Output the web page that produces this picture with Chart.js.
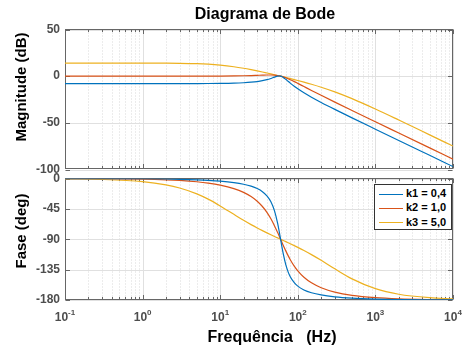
<!DOCTYPE html>
<html>
<head>
<meta charset="utf-8">
<title>Diagrama de Bode</title>
<script src="https://cdn.jsdelivr.net/npm/chart.js@4.4.0/dist/chart.umd.min.js"></script>
<style>
    html, body { margin: 0; padding: 0; background: #fff; }
    #wrap { position: relative; width: 465px; height: 352px; overflow: hidden; }
    #wrap canvas { position: absolute; left: 0; top: 0; }
    #legend {
        position: absolute; left: 374px; top: 184px; width: 76px; height: 43px;
        border: 1px solid #333; background: #fff; padding-top: 1px; box-sizing: content-box;
        font: bold 11px 'Liberation Sans', Arial, sans-serif; color: #000;
    }
    #legend .row { height: 14.3px; line-height: 14.3px; white-space: nowrap; }
    #legend .swatch {
        display: inline-block; width: 24px; height: 0; border-top: 1.5px solid;
        vertical-align: middle; margin: 0 3px 0 4px;
    }
</style>
</head>
<body>
<div id="wrap">
    <canvas id="mag" width="465" height="352"></canvas>
    <canvas id="phase" width="465" height="352"></canvas>
    <div id="legend"></div>
</div>
<script>
// Frequencies (Hz) and values
const freqHz = [0.1, 0.3, 1, 2, 3, 5, 7, 10, 15, 20, 25, 30, 35, 40, 45, 50, 55, 58, 60, 62,
    65, 70, 75, 80, 90, 100, 120, 150, 200, 300, 500, 1000, 2000, 5000, 10000];

const seriesLabels = ['k1 = 0,4', 'k2 = 1,0', 'k3 = 5,0'];
const seriesColors = ['#0072BD', '#D95319', '#EDB120'];

// Magnitude (dB)
const magK1 = [-7.96, -7.96, -7.96, -7.95, -7.94, -7.90, -7.85, -7.73, -7.45, -7.03, -6.48, -5.76,
    -4.86, -3.75, -2.45, -1.07, 0.00, 0.17, 0.00, -0.40, -1.34, -3.38, -5.49, -7.45, -10.80,
    -13.53, -17.80, -22.52, -28.13, -35.59, -44.68, -56.80, -68.87, -84.79, -96.83];
const magK2 = [0, 0, 0, 0, 0.01, 0.03, 0.06, 0.12, 0.26, 0.45, 0.67, 0.90, 1.10, 1.23, 1.23,
    1.04, 0.63, 0.28, 0.00, -0.30, -0.81, -1.74, -2.74, -3.77, -5.81, -7.74, -11.14, -15.29,
    -20.54, -27.79, -36.77, -48.86, -60.91, -76.83, -88.87];
const magK3 = [13.98, 13.98, 13.95, 13.87, 13.74, 13.34, 12.80, 11.83, 10.10, 8.46, 6.97, 5.65,
    4.47, 3.40, 2.44, 1.56, 0.75, 0.29, 0.00, -0.29, -0.70, -1.36, -1.97, -2.56, -3.64, -4.63,
    -6.39, -8.66, -11.82, -16.82, -24.10, -35.24, -47.02, -62.87, -74.90];

// Phase (deg)
const phaseK1 = [-0.04, -0.11, -0.38, -0.76, -1.15, -1.92, -2.71, -3.92, -6.09, -8.53, -11.40,
    -14.93, -19.48, -25.64, -34.44, -47.49, -66.46, -80.37, -90, -99.32, -111.84, -127.73,
    -138.37, -145.56, -154.36, -159.44, -165.07, -169.22, -172.49, -175.24, -177.21, -178.62,
    -179.31, -179.72, -179.86];
const phaseK2 = [-0.10, -0.29, -0.95, -1.91, -2.87, -4.80, -6.75, -9.73, -14.93, -20.56, -26.76,
    -33.69, -41.48, -50.19, -59.74, -69.86, -80.12, -86.12, -90, -93.75, -99.10, -107.22,
    -114.23, -120.26, -129.81, -136.85, -146.31, -154.54, -161.75, -168.23, -173.06, -176.55,
    -178.28, -179.31, -179.66];
const phaseK3 = [-0.48, -1.43, -4.76, -9.47, -14.07, -22.76, -30.60, -40.60, -53.13, -61.93,
    -68.36, -73.30, -77.26, -80.54, -83.35, -85.81, -88.00, -89.22, -90, -90.75, -91.84, -93.54,
    -95.14, -96.65, -99.46, -102.04, -106.70, -112.78, -121.24, -133.83, -148.67, -163.24,
    -171.46, -176.57, -178.28];

const magTicks = [50, 0, -50, -100];
const phaseTicks = [0, -45, -90, -135, -180];
const decades = [-1, 0, 1, 2, 3, 4];

const FONT = "'Liberation Sans', Arial, Helvetica, sans-serif";
const AXIS_GRAY = '#4d4d4d';

function toPoints(values) {
    return values.map((v, i) => ({ x: freqHz[i], y: v }));
}

function makeDatasets(seriesList) {
    return seriesList.map((values, i) => ({
        label: seriesLabels[i],
        data: toPoints(values),
        borderColor: seriesColors[i],
        backgroundColor: seriesColors[i],
        borderWidth: 1.2,
        pointRadius: 0,
        cubicInterpolationMode: 'monotone',
        fill: false
    }));
}

function hline(ctx, x1, x2, y) {
    ctx.beginPath(); ctx.moveTo(x1, y); ctx.lineTo(x2, y); ctx.stroke();
}
function vline(ctx, x, y1, y2) {
    ctx.beginPath(); ctx.moveTo(x, y1); ctx.lineTo(x, y2); ctx.stroke();
}

// MATLAB-like grid, box, inward ticks and labels
const bodeAxes = {
    id: 'bodeAxes',
    beforeDatasetsDraw(chart) {
        const { ctx, chartArea: a, scales: { x, y } } = chart;
        const L = Math.floor(a.left) + 0.5, R = Math.floor(a.right) - 0.5;
        const T = Math.floor(a.top) + 0.5, B = Math.floor(a.bottom) - 0.5;
        const minorX = [];
        decades.slice(0, -1).forEach(d => {
            for (let m = 2; m <= 9; m++) minorX.push(Math.round(x.getPixelForValue(m * Math.pow(10, d))) + 0.5);
        });
        const majorX = decades.map(d => Math.round(x.getPixelForValue(Math.pow(10, d))) + 0.5);
        const majorY = y.ticks.map(t => Math.round(y.getPixelForValue(t.value)) + 0.5);

        ctx.save();
        ctx.lineWidth = 1;
        ctx.strokeStyle = '#d9d9d9';
        ctx.setLineDash([1, 2]);
        minorX.forEach(px => vline(ctx, px, T, B));
        ctx.setLineDash([]);
        ctx.strokeStyle = '#e0e0e0';
        majorX.forEach(px => vline(ctx, px, T, B));
        majorY.forEach(py => hline(ctx, L, R, py));

        ctx.strokeStyle = '#666';
        ctx.strokeRect(L, T, R - L, B - T);
        minorX.forEach(px => { vline(ctx, px, B, B - 2.5); vline(ctx, px, T, T + 2.5); });
        majorX.forEach(px => { vline(ctx, px, B, B - 4.5); vline(ctx, px, T, T + 4.5); });
        majorY.forEach(py => { hline(ctx, L, L + 4.5, py); hline(ctx, R, R - 4.5, py); });
        ctx.restore();
    },
    afterDraw(chart, args, opts) {
        const { ctx, scales: { x } } = chart;
        ctx.save();
        ctx.fillStyle = '#000';
        ctx.textBaseline = 'alphabetic';
        if (opts.title) {
            ctx.font = 'bold 16px ' + FONT;
            ctx.textAlign = 'center';
            ctx.fillText(opts.title, 265, 19);
        }
        if (opts.xTitle) {
            ctx.font = 'bold 16px ' + FONT;
            ctx.textAlign = 'center';
            ctx.fillText(opts.xTitle, 272, 342);
        }
        if (opts.xLabels) {
            ctx.fillStyle = AXIS_GRAY;
            ctx.textAlign = 'left';
            decades.forEach(d => {
                const px = x.getPixelForValue(Math.pow(10, d));
                const exp = String(d);
                ctx.font = 'bold 12px ' + FONT;
                const wBase = ctx.measureText('10').width;
                ctx.font = 'bold 8px ' + FONT;
                const wExp = ctx.measureText(exp).width;
                const start = px - (wBase + wExp) / 2;
                ctx.font = 'bold 12px ' + FONT;
                ctx.fillText('10', start, 321);
                ctx.font = 'bold 8px ' + FONT;
                ctx.fillText(exp, start + wBase, 315);
            });
        }
        ctx.restore();

        ctx.save();
        ctx.fillStyle = '#000';
        ctx.font = 'bold 15px ' + FONT;
        ctx.textAlign = 'center';
        ctx.textBaseline = 'alphabetic';
        ctx.translate(26, opts.yTitleY);
        ctx.rotate(-Math.PI / 2);
        ctx.fillText(opts.yTitle, 0, 0);
        ctx.restore();
    }
};

function makeOptions(ticks, padding, texts) {
    return {
        responsive: false,
        animation: false,
        events: [],
        layout: { padding: padding },
        plugins: { legend: { display: false }, tooltip: { enabled: false }, bodeAxes: texts },
        scales: {
            x: { type: 'logarithmic', min: 0.1, max: 10000, display: false },
            y: {
                type: 'linear',
                min: Math.min(...ticks),
                max: Math.max(...ticks),
                afterBuildTicks: s => { s.ticks = ticks.map(v => ({ value: v })); },
                afterFit: s => { s.width = 65; },
                grid: { display: false, drawTicks: false },
                border: { display: false },
                ticks: { color: AXIS_GRAY, padding: 5, font: { family: FONT, size: 12, weight: 'bold' } }
            }
        }
    };
}

new Chart(document.getElementById('mag'), {
    type: 'line',
    data: { datasets: makeDatasets([magK1, magK2, magK3]) },
    options: makeOptions(magTicks, { top: 29.5, bottom: 182.5, left: 0, right: 12 },
        { title: 'Diagrama de Bode', yTitle: 'Magnitude (dB)', yTitleY: 87 }),
    plugins: [bodeAxes]
});

new Chart(document.getElementById('phase'), {
    type: 'line',
    data: { datasets: makeDatasets([phaseK1, phaseK2, phaseK3]) },
    options: makeOptions(phaseTicks, { top: 178.5, bottom: 52, left: 0, right: 12 },
        { yTitle: 'Fase (deg)', yTitleY: 231, xTitle: 'Frequência   (Hz)', xLabels: true }),
    plugins: [bodeAxes]
});

// Legend box inside the phase plot
const legend = document.getElementById('legend');
seriesLabels.forEach((label, i) => {
    const row = document.createElement('div');
    row.className = 'row';
    const sw = document.createElement('span');
    sw.className = 'swatch';
    sw.style.borderTopColor = seriesColors[i];
    row.appendChild(sw);
    row.appendChild(document.createTextNode(label));
    legend.appendChild(row);
});
</script>
</body>
</html>
